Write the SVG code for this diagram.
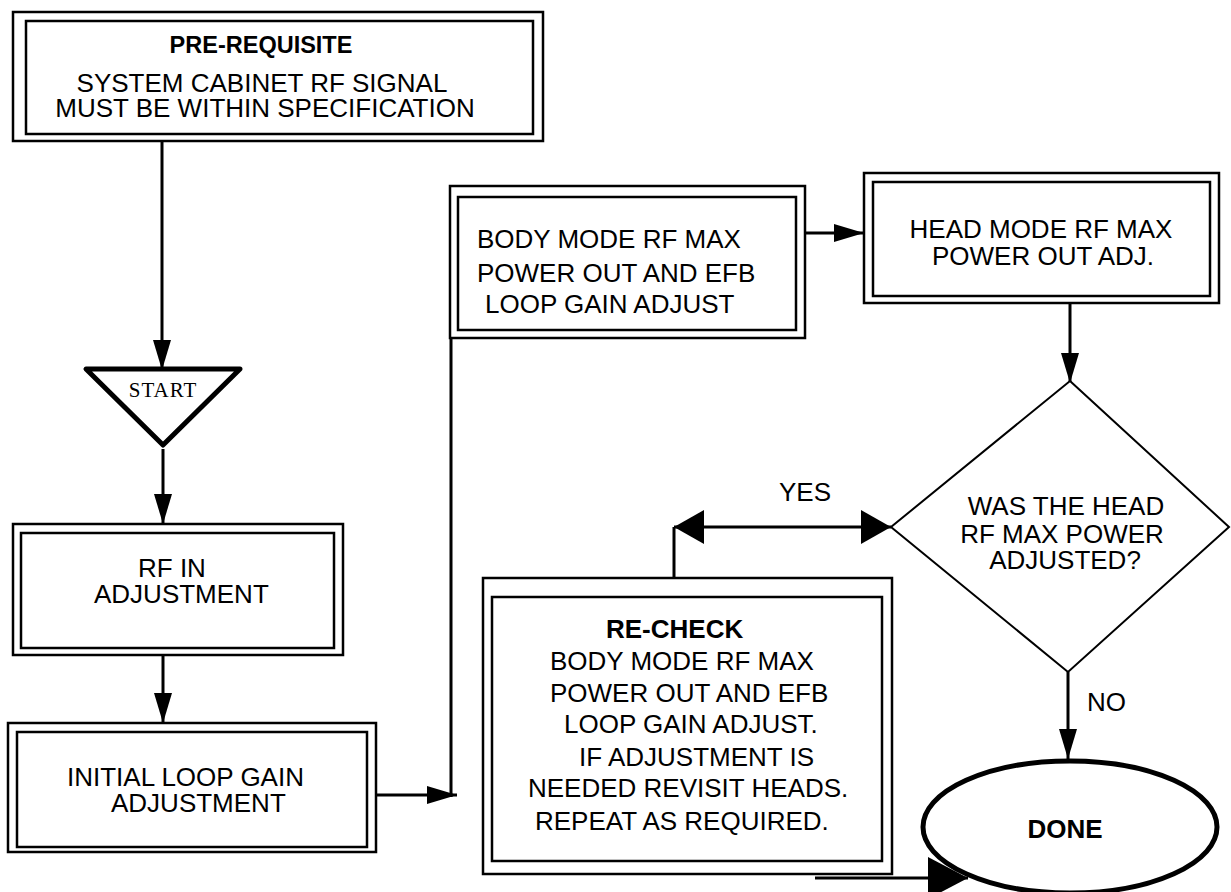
<svg xmlns="http://www.w3.org/2000/svg" width="1231" height="892" viewBox="0 0 1231 892">
<defs>
<style>
.box{fill:#fff;stroke:#000;stroke-width:2.5}
.t{font-family:"Liberation Sans",Arial,sans-serif;font-size:26px;fill:#000}
.b{font-weight:bold}
.c{text-anchor:middle}
.con{fill:none;stroke:#000;stroke-width:3}
</style>
<marker id="ah" markerUnits="userSpaceOnUse" markerWidth="30" markerHeight="18" refX="30" refY="9" orient="auto" viewBox="0 0 30 18"><path d="M0,0 L30,9 L0,18 z" fill="#000"/></marker>
<marker id="ahBig" markerUnits="userSpaceOnUse" markerWidth="30" markerHeight="34" refX="30" refY="17" orient="auto-start-reverse" viewBox="0 0 30 34"><path d="M0,0 L30,17 L0,34 z" fill="#000"/></marker>
<marker id="ahDone" markerUnits="userSpaceOnUse" markerWidth="40" markerHeight="42" refX="40" refY="21" orient="auto" viewBox="0 0 40 42"><path d="M0,0 L40,21 L0,42 z" fill="#000"/></marker>
</defs>
<rect width="1231" height="892" fill="#fff"/>

<g id="connectors">
<line class="con" x1="162" y1="141" x2="162" y2="370" marker-end="url(#ah)"/>
<line class="con" x1="163" y1="449" x2="163" y2="524" marker-end="url(#ah)"/>
<line class="con" x1="163" y1="655" x2="163" y2="723" marker-end="url(#ah)"/>
<line class="con" x1="376" y1="795" x2="457" y2="795" marker-end="url(#ah)"/>
<line class="con" x1="451" y1="338" x2="451" y2="797"/>
<line class="con" x1="805" y1="233" x2="864" y2="233" marker-end="url(#ah)"/>
<line class="con" x1="1070" y1="303" x2="1070" y2="383" marker-end="url(#ah)"/>
<line class="con" x1="674" y1="578" x2="674" y2="527"/>
<line class="con" x1="674" y1="527" x2="891" y2="527" marker-start="url(#ahBig)" marker-end="url(#ahBig)"/>
<line class="con" x1="1068" y1="672" x2="1068" y2="759" marker-end="url(#ah)"/>
<line class="con" x1="815" y1="878" x2="968" y2="878" marker-end="url(#ahDone)"/>
<text class="t c" x="805" y="501">YES</text>
<text class="t" x="1087" y="711">NO</text>
</g>

<g id="prerequisite">
<rect class="box" x="13" y="12" width="530" height="129"/>
<rect class="box" x="26" y="21" width="507" height="113"/>
<text class="t b c" x="261" y="53" style="font-size:23.5px">PRE-REQUISITE</text>
<text class="t c" x="262" y="92">SYSTEM CABINET RF SIGNAL</text>
<text class="t c" x="265" y="117">MUST BE WITHIN SPECIFICATION</text>
</g>

<g id="start">
<polygon points="86,369 240,369 163,445" fill="#fff" stroke="#000" stroke-width="5" stroke-linejoin="round"/>
<text x="163" y="397" text-anchor="middle" font-family="'Liberation Serif','Times New Roman',serif" font-size="21" letter-spacing="1">START</text>
</g>

<g id="rf-in">
<rect class="box" x="13" y="524" width="330" height="131"/>
<rect class="box" x="21" y="533" width="313" height="115"/>
<text class="t" x="138" y="577">RF IN</text>
<text class="t" x="94" y="603">ADJUSTMENT</text>
</g>

<g id="initial-loop">
<rect class="box" x="8" y="723" width="368" height="129"/>
<rect class="box" x="17" y="732" width="350" height="115"/>
<text class="t" x="67" y="786">INITIAL LOOP GAIN</text>
<text class="t" x="111" y="812">ADJUSTMENT</text>
</g>

<g id="body-mode">
<rect class="box" x="450" y="186" width="355" height="152"/>
<rect class="box" x="458" y="197" width="338" height="133"/>
<text class="t" x="477" y="248">BODY MODE RF MAX</text>
<text class="t" x="477" y="282">POWER OUT AND EFB</text>
<text class="t" x="485" y="313">LOOP GAIN ADJUST</text>
</g>

<g id="head-mode">
<rect class="box" x="864" y="173" width="355" height="130"/>
<rect class="box" x="873" y="182" width="337" height="114"/>
<text class="t c" x="1041" y="238">HEAD MODE RF MAX</text>
<text class="t c" x="1043" y="265">POWER OUT ADJ.</text>
</g>

<g id="decision">
<polygon points="1070,381 1229,527 1068,672 891,527" fill="#fff" stroke="#000" stroke-width="2"/>
<text class="t c" x="1066" y="515">WAS THE HEAD</text>
<text class="t c" x="1062" y="543">RF MAX POWER</text>
<text class="t c" x="1065" y="569">ADJUSTED?</text>
</g>

<g id="recheck">
<rect class="box" x="483" y="578" width="409" height="296"/>
<rect class="box" x="492" y="597" width="390" height="264"/>
<text class="t b" x="606" y="638">RE-CHECK</text>
<text class="t" x="550" y="670">BODY MODE RF MAX</text>
<text class="t" x="550" y="702">POWER OUT AND EFB</text>
<text class="t" x="564" y="733">LOOP GAIN ADJUST.</text>
<text class="t" x="579" y="766">IF ADJUSTMENT IS</text>
<text class="t" x="528" y="797">NEEDED REVISIT HEADS.</text>
<text class="t" x="535" y="830">REPEAT AS REQUIRED.</text>
</g>

<g id="done">
<ellipse cx="1070" cy="827" rx="147" ry="66" fill="#fff" stroke="#000" stroke-width="5"/>
<text class="t b c" x="1065" y="838">DONE</text>
</g>
</svg>
